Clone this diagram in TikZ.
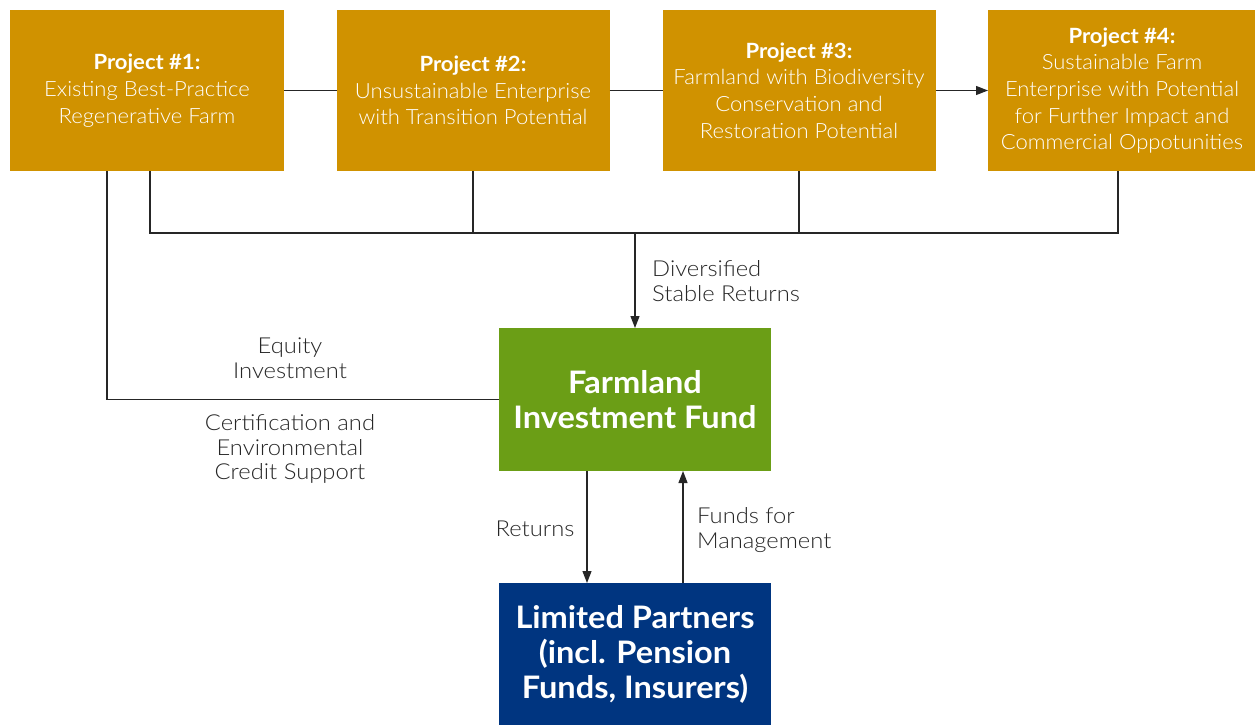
\documentclass[tikz,border=0pt]{standalone}
\usepackage{fontspec}
\setmainfont{Lato}
\newfontfamily\lightfont[FakeStretch=1.05]{Lato Light}
\newfontfamily\lblfont[FakeStretch=1.08]{Lato Light}
\newfontfamily\widefont[FakeStretch=1.05]{Lato}
\usetikzlibrary{arrows.meta}
\definecolor{gold}{HTML}{D09200}
\definecolor{fundgreen}{HTML}{6B9E16}
\definecolor{lpblue}{HTML}{003580}
\definecolor{ink}{HTML}{262626}
\tikzset{
  proj/.style={fill=gold, minimum width=273pt, minimum height=161pt, inner sep=0pt, outer sep=0pt,
    text=white, align=center, font=\lightfont\fontsize{21}{26.7}\selectfont},
  bigbox/.style={minimum width=272pt, minimum height=143pt, inner sep=0pt, outer sep=0pt,
    text=white, align=center, font=\widefont\bfseries\fontsize{31}{35}\selectfont},
  lbl/.style={text=ink, font=\lblfont\fontsize{22}{24.5}\selectfont, inner sep=0pt},
  conn/.style={draw=ink, line width=1.2pt},
  arr/.style={conn, -{Triangle[length=12pt,width=9pt]}}
}
\newcommand{\ptitle}[1]{{\widefont\bfseries\fontsize{21}{26.7}\selectfont #1}}
\begin{document}
\begin{tikzpicture}[x=1pt,y=-1pt]
\useasboundingbox (0,0) rectangle (1255,724);
% projects
\node[proj, minimum width=274pt] (p1) at (147,90.5) {\ptitle{Project \#1:}\\Existing Best-Practice\\Regenerative Farm};
\node[proj] (p2) at (473,90.5) {\ptitle{Project \#2:}\\Unsustainable Enterprise\\with Transition Potential};
\node[proj] (p3) at (799,90.5) {\ptitle{Project \#3:}\\Farmland with Biodiversity\\Conservation and\\Restoration Potential};
\node[proj, minimum width=268pt] (p4) at (1122,90.5) {\ptitle{Project \#4:}\\Sustainable Farm\\Enterprise with Potential\\for Further Impact and\\Commercial Oppotunities};
% main boxes
\node[bigbox, fill=fundgreen] (fund) at (635,399.5) {Farmland\\Investment Fund};
\node[bigbox, fill=lpblue, minimum height=142pt] (lp) at (635,654) {Limited Partners\\(incl. Pension\\Funds, Insurers)};
% top connectors
\draw[conn] (p1.east) -- (p2.west);
\draw[conn] (p2.east) -- (p3.west);
\draw[arr] (p3.east) -- (p4.west);
% bus
\coordinate (b1) at (150,233);
\coordinate (b2) at (473,233);
\coordinate (b3) at (799,233);
\coordinate (b4) at (1118,233);
\coordinate (bm) at (635,233);
\draw[conn] (p1.south -| b1) -- (b1) -- (b4) -- (p4.south -| b4);
\draw[conn] (p2.south -| b2) -- (b2);
\draw[conn] (p3.south -| b3) -- (b3);
\draw[arr] (bm) -- (fund.north);
% equity line
\coordinate (e1) at (107,0);
\draw[conn] (p1.south -| e1) |- (fund.west);
% fund <-> lp
\coordinate (r) at (587,0);
\coordinate (f) at (683,0);
\draw[arr] (fund.south -| r) -- (lp.north -| r);
\draw[arr] (lp.north -| f) -- (fund.south -| f);
% labels
\node[lbl, align=left, anchor=west] (ldiv) at (652,281) {Diversified\\Stable Returns};
\node[lbl, align=center] (leq) at (290,358) {Equity\\Investment};
\node[lbl, align=center] (lcert) at (290,449) {Certification and\\Environmental\\Credit Support};
\node[lbl, align=center] (lret) at (535,529) {Returns};
\node[lbl, align=left, anchor=west] (lfun) at (697,530) {Funds for\\Management};
\end{tikzpicture}
\end{document}
